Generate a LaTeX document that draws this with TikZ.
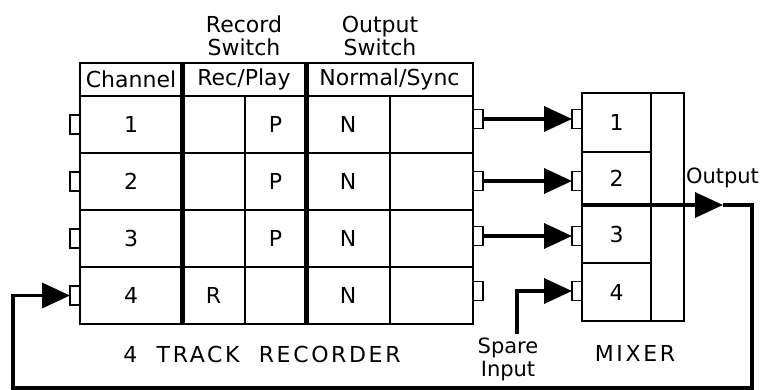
\documentclass[tikz,border=0pt]{standalone}
\usepackage{fontspec}
\setmainfont{DejaVu Sans}
\usetikzlibrary{arrows.meta,positioning}

\begin{document}
\begin{tikzpicture}[x=1pt,y=-1pt]
\tikzset{every node/.style={font=\fontsize{22}{23}\selectfont,inner sep=0pt,outer sep=0pt}}
\tikzset{cell/.style={draw,line width=2pt,minimum height=57pt}}
\tikzset{head/.style={draw,line width=2pt,minimum height=33pt}}
\tikzset{port/.style={draw,line width=1.3pt,minimum width=10pt,minimum height=19pt}}
\tikzset{wire/.style={line width=3.5pt}}
\tikzset{feed/.style={wire,-{Triangle[length=28pt,width=25pt]}}}
%\tikzset{spaced/.style={font=\fontsize{22}{23}\selectfont\addfontfeature{LetterSpace=12}}}
\useasboundingbox (0,0) rectangle (762,390);
% recorder, header row
\node[head,minimum width=102pt] (hch) at (131,79.5) {Channel};
\node[head,minimum width=124pt,right=0pt of hch] (hrp) {Rec/Play};
\node[head,minimum width=167pt,right=0pt of hrp] (hns) {Normal/Sync};
\node[align=center] (recsw) at (244,36) {Record\\Switch};
\node[align=center] (outsw) at (380,36) {Output\\Switch};
% recorder, tracks
\node[cell,minimum width=102pt,below=0pt of hch] (c1) {1};
\node[cell,minimum width=63pt,right=0pt of c1] (r1) {};
\node[cell,minimum width=61pt,right=0pt of r1] (p1) {P};
\node[cell,minimum width=84pt,right=0pt of p1] (n1) {N};
\node[cell,minimum width=83pt,right=0pt of n1] (s1) {};
\node[cell,minimum width=102pt,below=0pt of c1] (c2) {2};
\node[cell,minimum width=63pt,right=0pt of c2] (r2) {};
\node[cell,minimum width=61pt,right=0pt of r2] (p2) {P};
\node[cell,minimum width=84pt,right=0pt of p2] (n2) {N};
\node[cell,minimum width=83pt,right=0pt of n2] (s2) {};
\node[cell,minimum width=102pt,below=0pt of c2] (c3) {3};
\node[cell,minimum width=63pt,right=0pt of c3] (r3) {};
\node[cell,minimum width=61pt,right=0pt of r3] (p3) {P};
\node[cell,minimum width=84pt,right=0pt of p3] (n3) {N};
\node[cell,minimum width=83pt,right=0pt of n3] (s3) {};
\node[cell,minimum width=102pt,below=0pt of c3] (c4) {4};
\node[cell,minimum width=63pt,right=0pt of c4] (r4) {R};
\node[cell,minimum width=61pt,right=0pt of r4] (p4) {};
\node[cell,minimum width=84pt,right=0pt of p4] (n4) {N};
\node[cell,minimum width=83pt,right=0pt of n4] (s4) {};
\draw[line width=5pt] (hrp.north west) -- (r4.south west);
\draw[line width=5pt] (hns.north west) -- (n4.south west);
\node (rec) at (262,354) {\addfontfeature{LetterSpace=12}4\ \ TRACK\ \ RECORDER};
% recorder, ports
\node[port,anchor=east] (li1) at (c1.west) {};
\node[port,anchor=east] (li2) at (c2.west) {};
\node[port,anchor=east] (li3) at (c3.west) {};
\node[port,anchor=east] (li4) at (c4.west) {};
\node[port,anchor=west] (ro1) at (473,119) {};
\node[port,anchor=west] (ro2) at (473,181) {};
\node[port,anchor=west] (ro3) at (473,236) {};
\node[port,anchor=west] (ro4) at (473,291) {};
% mixer
\node[cell,minimum width=69pt,minimum height=59pt] (m1) at (616.5,122.5) {1};
\node[cell,minimum width=69pt,minimum height=53pt,below=0pt of m1] (m2) {2};
\node[cell,minimum width=69pt,minimum height=58pt,below=0pt of m2] (m3) {3};
\node[cell,minimum width=69pt,minimum height=58pt,below=0pt of m3] (m4) {4};
\node[cell,minimum width=33pt,minimum height=228pt] (mside) at (667.5,207) {};
\node (mix) at (635,353) {\addfontfeature{LetterSpace=12}MIXER};
\node[port,anchor=east] (mi1) at (582,119) {};
\node[port,anchor=east] (mi2) at (582,181) {};
\node[port,anchor=east] (mi3) at (582,236) {};
\node[port,anchor=east] (mi4) at (582,291) {};
% connections
\draw[feed] (ro1) -- (mi1);
\draw[feed] (ro2) -- (mi2);
\draw[feed] (ro3) -- (mi3);
\node[align=center,font=\fontsize{21}{23}\selectfont] (spare) at (508,359) {Spare\\Input};
\coordinate (sp) at (517,334);
\draw[feed] (sp) |- (mi4);
\node[anchor=west,font=\fontsize{21}{23}\selectfont] (out) at (686,178) {Output};
\coordinate (mo) at (m3.north west);
\coordinate (otip) at (723,205);
\coordinate (bright) at (752,388);
\coordinate (bleft) at (13,388);
\draw[feed] (mo) -- (otip);
\draw[feed] (otip) -| (bright) -- (bleft) |- (li4);
\end{tikzpicture}
\end{document}
